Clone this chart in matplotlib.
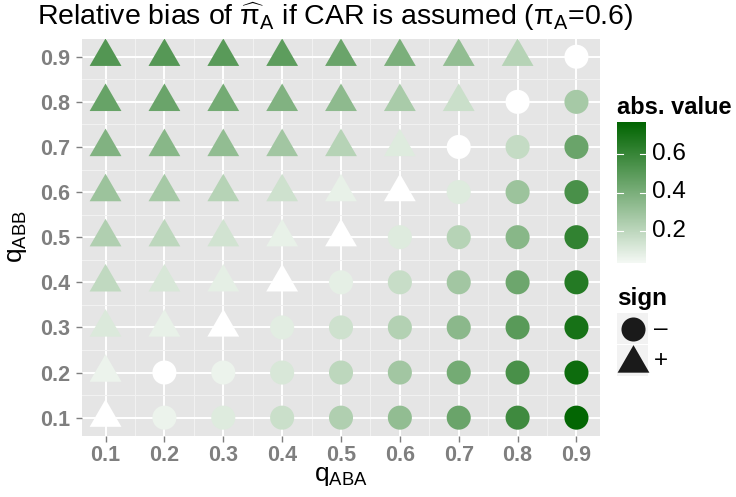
import numpy as np
import matplotlib
matplotlib.use("Agg")
import matplotlib.pyplot as plt
from matplotlib.colors import LinearSegmentedColormap, Normalize
from matplotlib.patches import Rectangle

plt.rcParams["font.family"] = ["Liberation Sans", "DejaVu Sans"]
plt.rcParams["mathtext.fontset"] = "custom"
plt.rcParams["mathtext.rm"] = "Liberation Sans"
plt.rcParams["mathtext.it"] = "Liberation Sans:italic"
plt.rcParams["mathtext.bf"] = "Liberation Sans:bold"

# grid of q values
q_aba = [0.1, 0.2, 0.3, 0.4, 0.5, 0.6, 0.7, 0.8, 0.9]
q_abb = [0.1, 0.2, 0.3, 0.4, 0.5, 0.6, 0.7, 0.8, 0.9]

# absolute relative bias, one row per q_ABB (0.1 first), columns q_ABA
abs_bias = [
    [0.00, 0.06, 0.10, 0.16, 0.24, 0.33, 0.45, 0.58, 0.76],
    [0.06, 0.00, 0.06, 0.12, 0.20, 0.28, 0.42, 0.55, 0.73],
    [0.11, 0.07, 0.00, 0.09, 0.15, 0.23, 0.35, 0.50, 0.70],
    [0.19, 0.12, 0.08, 0.00, 0.08, 0.17, 0.28, 0.44, 0.66],
    [0.24, 0.20, 0.14, 0.07, 0.00, 0.10, 0.22, 0.36, 0.62],
    [0.30, 0.27, 0.22, 0.15, 0.07, 0.00, 0.10, 0.30, 0.55],
    [0.38, 0.36, 0.33, 0.28, 0.22, 0.10, 0.00, 0.18, 0.45],
    [0.46, 0.45, 0.42, 0.38, 0.34, 0.26, 0.16, 0.00, 0.27],
    [0.52, 0.51, 0.50, 0.49, 0.45, 0.40, 0.33, 0.22, 0.00],
]

# sign of the bias, same layout
signs = [
    "+--------",
    "+--------",
    "+++------",
    "++++-----",
    "+++++----",
    "++++++---",
    "++++++---",
    "+++++++--",
    "++++++++-",
]

cbar_ticks = [0.2, 0.4, 0.6]

W, H = 736, 497
fig = plt.figure(figsize=(W / 100, H / 100), dpi=100)

cmap = LinearSegmentedColormap.from_list("wg", ["#FFFFFF", "#006400"])
norm = Normalize(vmin=0.0, vmax=0.77)

tri = [(0, 1.155), (-1, -0.577), (1, -0.577)]

ax = fig.add_axes([82 / W, 1 - 435.7 / H, 518 / W, 397 / H])
ax.set_facecolor("#E5E5E5")
for s in ax.spines.values():
    s.set_visible(False)

xs, ys, vs, ss = [], [], [], []
for i, yb in enumerate(q_abb):
    for j, xa in enumerate(q_aba):
        xs.append(xa)
        ys.append(yb)
        vs.append(abs_bias[i][j])
        ss.append(signs[i][j])
xs, ys, vs, ss = map(np.array, (xs, ys, vs, ss))

neg = ss == "-"
pos = ss == "+"
ax.scatter(xs[neg], ys[neg], c=vs[neg], cmap=cmap, norm=norm,
           marker="o", s=300, linewidths=0, zorder=3)
ax.scatter(xs[pos], ys[pos], c=vs[pos], cmap=cmap, norm=norm,
           marker=tri, s=700, linewidths=0, zorder=3)

ax.set_xlim(0.06, 0.94)
ax.set_ylim(0.06, 0.94)
ax.set_xticks(q_aba)
ax.set_yticks(q_abb)
ax.set_xticks(np.arange(0.15, 0.9, 0.1), minor=True)
ax.set_yticks(np.arange(0.15, 0.9, 0.1), minor=True)
ax.grid(which="major", color="white", linewidth=1.4, zorder=1)
ax.grid(which="minor", color="#F2F2F2", linewidth=0.7, zorder=1)
ax.set_axisbelow(True)
ax.tick_params(which="major", length=4.5, width=1, color="#7F7F7F",
               labelsize=15.5, labelcolor="#7F7F7F")
ax.tick_params(axis="x", pad=2)
ax.tick_params(axis="y", pad=4)
ax.tick_params(which="minor", length=0)
ax.xaxis.set_major_formatter(matplotlib.ticker.FormatStrFormatter("%.1f"))
ax.yaxis.set_major_formatter(matplotlib.ticker.FormatStrFormatter("%.1f"))
for lab in ax.get_xticklabels() + ax.get_yticklabels():
    lab.set_fontweight("bold")

fig.text(37 / W, 1 - 25 / H,
         r"Relative bias of $\widehat{\mathrm{\pi}}_{\mathrm{A}}$ if CAR is assumed "
         r"($\mathrm{\pi}_{\mathrm{A}}$=0.6)",
         fontsize=20.5, ha="left", va="baseline")
fig.text(341 / W, 1 - 481 / H, r"$\mathrm{q}_{\mathrm{ABA}}$",
         fontsize=19, ha="center", va="baseline")
fig.text(17 / W, 1 - 237 / H, r"$\mathrm{q}_{\mathrm{ABB}}$",
         fontsize=19, ha="center", va="center", rotation=90)

# overlay in pixel coordinates for the legends
ov = fig.add_axes([0, 0, 1, 1])
ov.set_xlim(0, W)
ov.set_ylim(H, 0)
ov.axis("off")

# colour bar
lo, hi = 0.034, 0.766
y_top, y_bot = 122, 263
grad = np.linspace(hi, lo, 200).reshape(-1, 1)
ov.imshow(grad, cmap=cmap, norm=norm, aspect="auto",
          extent=(617, 646, y_bot, y_top), zorder=2)


def val_to_y(v):
    return y_bot - (v - lo) / (hi - lo) * (y_bot - y_top)


for t in cbar_ticks:
    yy = val_to_y(t)
    ov.plot([617, 623], [yy, yy], color="white", lw=0.8, zorder=3)
    ov.plot([640, 646], [yy, yy], color="white", lw=0.8, zorder=3)
    ov.text(652, yy, f"{t:.1f}", fontsize=17.5, va="center", ha="left")
ov.text(617, 108, "abs. value", fontsize=17, fontweight="bold",
        va="center", ha="left")

# sign legend
ov.text(617, 298, "sign", fontsize=17.5, fontweight="bold",
        va="center", ha="left")
ov.add_patch(Rectangle((617, 313), 31, 31, color="#F2F2F2", lw=0))
ov.add_patch(Rectangle((617, 345), 31, 31, color="#F2F2F2", lw=0))
ov.scatter([632.5], [328.5], marker="o", s=300, color="#1A1A1A", lw=0,
           zorder=3)
ov.scatter([632.5], [363], marker=tri, s=700, color="#1A1A1A", lw=0,
           zorder=3)
ov.text(654, 328.5, "\u2013", fontsize=17.5, va="center", ha="left")
ov.text(654, 361, "+", fontsize=17.5, va="center", ha="left")

fig.savefig("out.png", dpi=100)
